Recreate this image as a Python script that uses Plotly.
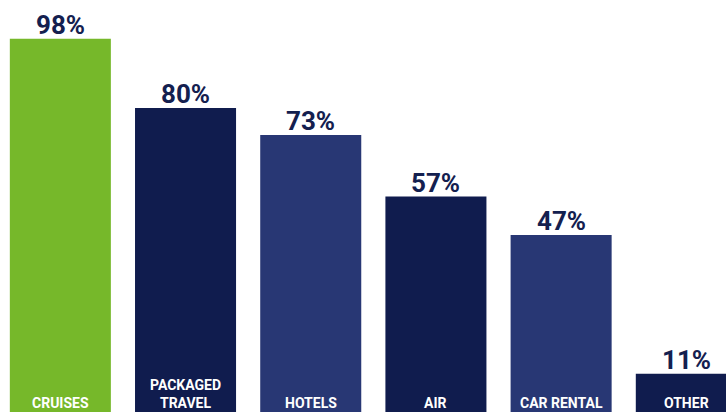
import plotly.graph_objects as go

categories = ["CRUISES", "PACKAGED<br>TRAVEL", "HOTELS", "AIR", "CAR RENTAL", "OTHER"]
values = [98, 80, 73, 57, 47, 11]
value_labels = ["98%", "80%", "73%", "57%", "47%", "11%"]
colors = ["#76b82a", "#101c4e", "#283774", "#101c4e", "#283774", "#101c4e"]

FONT = "Roboto"

fig = go.Figure()
fig.add_trace(go.Bar(
    x=list(range(len(categories))),
    y=values,
    width=0.807,
    marker=dict(color=colors, line=dict(width=0)),
    hoverinfo="skip",
))

for i, (v, lab, cat) in enumerate(zip(values, value_labels, categories)):
    fig.add_annotation(
        x=i, y=v, xref="x", yref="y", text="<b>" + lab + "</b>",
        showarrow=False, yanchor="bottom", yshift=-3,
        font=dict(family=FONT, size=26, color="#14204f"),
    )
    fig.add_annotation(
        x=i, y=0, xref="x", yref="paper", text="<b>" + cat + "</b>",
        showarrow=False, yanchor="bottom", yshift=-1,
        font=dict(family=FONT, size=14, color="white"),
        align="center",
    )

fig.update_layout(
    width=726, height=412,
    margin=dict(l=0, r=0, t=0, b=0),
    paper_bgcolor="white", plot_bgcolor="white",
    showlegend=False,
    xaxis=dict(range=[-0.482, 5.317], visible=False, fixedrange=True),
    yaxis=dict(range=[1.06, 108.05], visible=False, fixedrange=True),
)

fig.write_html(
    "out.html",
    config={"displayModeBar": False},
    post_script="document.body.style.margin='0';document.body.style.overflow='hidden';",
)
